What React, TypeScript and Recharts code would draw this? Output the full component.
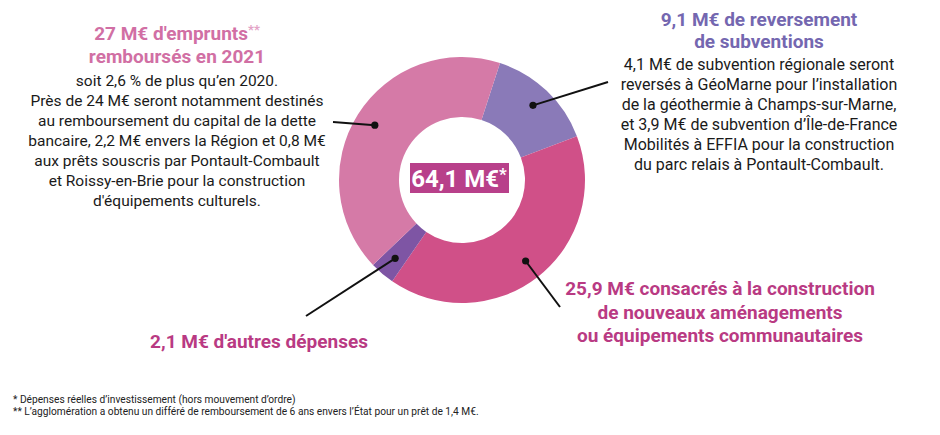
import React from 'react';
import { PieChart, Pie, Cell } from 'recharts';

// slices, clockwise from the top right
const categories = [
  'Reversement de subventions',
  'Construction et aménagements',
  'Autres dépenses',
  'Emprunts remboursés',
];
const values = [9.1, 25.9, 2.1, 27];
const sliceColors = ['#8A7AB8', '#D05088', '#7E55A4', '#D57AA7'];
const totalLabel = '64,1 M€';

const titles = [
  ['9,1 M€ de reversement', 'de subventions'],
  ['25,9 M€ consacrés à la construction', 'de nouveaux aménagements', 'ou équipements communautaires'],
  ["2,1 M€ d'autres dépenses"],
  ["27 M€ d'emprunts", 'remboursés en 2021'],
];
const bodies = [
  [
    '4,1 M€ de subvention régionale seront',
    'reversés à GéoMarne pour l’installation',
    'de la géothermie à Champs-sur-Marne,',
    'et 3,9 M€ de subvention d’Île-de-France',
    'Mobilités à EFFIA pour la construction',
    'du parc relais à Pontault-Combault.',
  ],
  [],
  [],
  [
    'soit 2,6 % de plus qu’en 2020.',
    'Près de 24 M€ seront notamment destinés',
    'au remboursement du capital de la dette',
    'bancaire, 2,2 M€ envers la Région et 0,8 M€',
    'aux prêts souscris par Pontault-Combault',
    'et Roissy-en-Brie pour la construction',
    "d'équipements culturels.",
  ],
];
const titleMarks = ['', '', '', '**'];
const titleColors = ['#7467B0', '#B93A83', '#B93A83', '#D16FA4'];
const footnotes = [
  '* Dépenses réelles d’investissement (hors mouvement d’ordre)',
  '** L’agglomération a obtenu un différé de remboursement de 6 ans envers l’État pour un prêt de 1,4 M€.',
];

// annotation layout: text block anchor + leader line end
const LAYOUT = [
  { x: 759, y: 26, titleStep: 22, bodyY: 70, bodySize: 16, lineEnd: [608, 82] },
  { x: 720, y: 295, titleStep: 23.5, bodyY: 0, bodySize: 16, lineEnd: [560, 307] },
  { x: 259, y: 348, titleStep: 23, bodyY: 0, bodySize: 16, lineEnd: [306, 316] },
  { x: 177, y: 40, titleStep: 23, bodyY: 86, bodySize: 15.5, lineEnd: [333, 122] },
];

const RADIAN = Math.PI / 180;
const FONT = 'Roboto, "Noto Sans", sans-serif';

const data = categories.map((name, i) => ({ name, value: values[i] }));

function CenterBox({ cx, cy }: { cx: number; cy: number }) {
  return (
    <g>
      <rect x={cx - 52} y={cy - 17} width={99} height={30} fill="#B8408A" />
      <text x={cx - 3} y={cy + 7} textAnchor="middle" fontFamily={FONT} fontWeight={700} fontSize={24} fill="#fff">
        {totalLabel}
        <tspan fontSize={17} dy={-7}>*</tspan>
      </text>
    </g>
  );
}

function renderAnnotation(props: any) {
  const { cx, cy, midAngle, outerRadius, index } = props;
  const a = -midAngle * RADIAN;
  const r = outerRadius - 20;
  const x = cx + r * Math.cos(a);
  const y = cy + r * Math.sin(a);
  const lay = LAYOUT[index];
  return (
    <g key={`ann-${index}`}>
      {index === 0 ? <CenterBox cx={cx} cy={cy} /> : null}
      <line x1={x} y1={y} x2={lay.lineEnd[0]} y2={lay.lineEnd[1]} stroke="#111" strokeWidth={2} />
      <circle cx={x} cy={y} r={3.6} fill="#111" />
      <text
        x={lay.x}
        y={lay.y}
        textAnchor="middle"
        fontFamily={FONT}
        fontWeight={700}
        fontSize={19}
        fill={titleColors[index]}
      >
        {titles[index].map((t, j) => (
          <tspan key={j} x={lay.x} y={lay.y + j * lay.titleStep}>
            {t}
            {j === 0 && titleMarks[index] ? (
              <tspan fontSize={13} dy={-6} fill="#E3A3C6">
                {titleMarks[index]}
              </tspan>
            ) : null}
          </tspan>
        ))}
      </text>
      <text x={lay.x} y={lay.bodyY} textAnchor="middle" fontFamily={FONT} fontSize={lay.bodySize} fill="#1a1a1a">
        {bodies[index].map((t, j) => (
          <tspan key={j} x={lay.x} y={lay.bodyY + j * 20}>
            {t}
          </tspan>
        ))}
      </text>
    </g>
  );
}

export default function App() {
  return (
    <div style={{ position: 'fixed', left: 0, top: 0, width: 940, height: 435, background: '#fff' }}>
      <PieChart width={940} height={435} margin={{ top: 0, right: 0, bottom: 0, left: 0 }}>
        <Pie
          data={data}
          dataKey="value"
          nameKey="name"
          cx={462}
          cy={180}
          innerRadius={63}
          outerRadius={123}
          startAngle={72}
          endAngle={-288}
          stroke="none"
          label={renderAnnotation}
          labelLine={false}
          isAnimationActive={false}
        >
          {data.map((d, i) => (
            <Cell key={d.name} fill={sliceColors[i]} />
          ))}
        </Pie>
      </PieChart>
      <div
        style={{
          position: 'absolute',
          left: 13,
          top: 394,
          fontFamily: FONT,
          fontSize: 10.2,
          lineHeight: '12px',
          color: '#222',
        }}
      >
        {footnotes.map((f) => (
          <div key={f}>{f}</div>
        ))}
      </div>
    </div>
  );
}
